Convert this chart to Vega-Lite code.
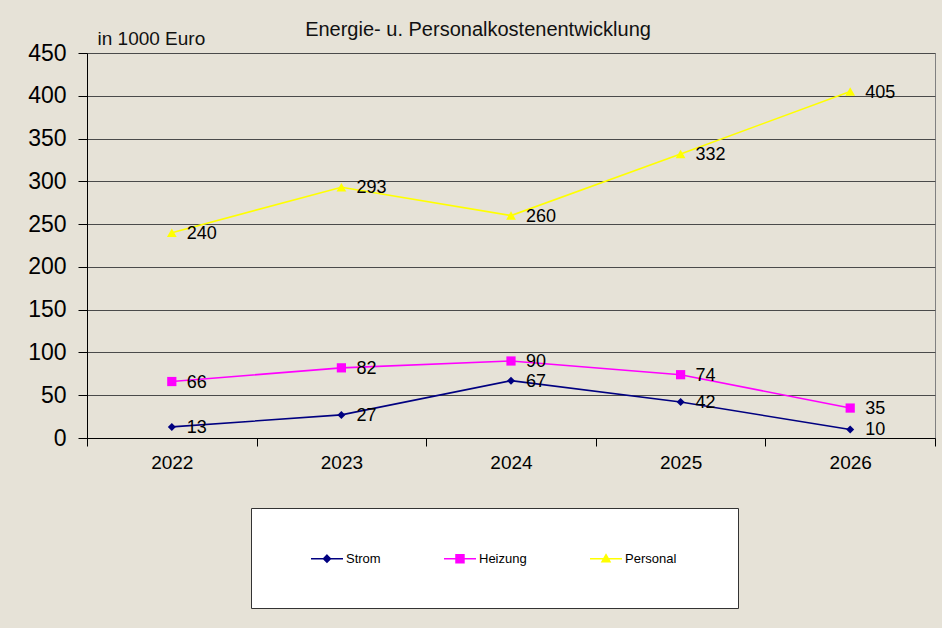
{
  "$schema": "https://vega.github.io/schema/vega-lite/v6.json",
  "width": 848,
  "height": 385,
  "autosize": {"type": "none"},
  "padding": {"left": 87, "top": 53, "right": 7, "bottom": 190},
  "background": "#e6e2d7",
  "config": {
    "font": "Liberation Sans",
    "view": {"stroke": "#808080", "strokeWidth": 1}
  },
  "title": {
    "text": "Energie- u. Personalkostenentwicklung",
    "fontSize": 20,
    "fontWeight": "normal",
    "color": "#111111",
    "anchor": "middle",
    "dx": -33,
    "dy": 24,
    "offset": 13
  },
  "data": {
    "values": [
      {"Jahr": "2022", "Reihe": "Strom", "Wert": 13},
      {"Jahr": "2023", "Reihe": "Strom", "Wert": 27},
      {"Jahr": "2024", "Reihe": "Strom", "Wert": 67},
      {"Jahr": "2025", "Reihe": "Strom", "Wert": 42},
      {"Jahr": "2026", "Reihe": "Strom", "Wert": 10},
      {"Jahr": "2022", "Reihe": "Heizung", "Wert": 66},
      {"Jahr": "2023", "Reihe": "Heizung", "Wert": 82},
      {"Jahr": "2024", "Reihe": "Heizung", "Wert": 90},
      {"Jahr": "2025", "Reihe": "Heizung", "Wert": 74},
      {"Jahr": "2026", "Reihe": "Heizung", "Wert": 35},
      {"Jahr": "2022", "Reihe": "Personal", "Wert": 240},
      {"Jahr": "2023", "Reihe": "Personal", "Wert": 293},
      {"Jahr": "2024", "Reihe": "Personal", "Wert": 260},
      {"Jahr": "2025", "Reihe": "Personal", "Wert": 332},
      {"Jahr": "2026", "Reihe": "Personal", "Wert": 405}
    ]
  },
  "encoding": {
    "x": {
      "field": "Jahr",
      "type": "ordinal",
      "bandPosition": 0.5,
      "scale": {"type": "band", "paddingInner": 0, "paddingOuter": 0},
      "axis": {
        "title": null,
        "labelAngle": 0,
        "grid": false,
        "domainColor": "#000000",
        "tickColor": "#000000",
        "tickBand": "extent",
        "tickSize": 8,
        "labelFontSize": 19,
        "labelColor": "#000000",
        "labelPadding": 7
      }
    },
    "y": {
      "field": "Wert",
      "type": "quantitative",
      "scale": {"domain": [0, 450], "nice": false},
      "axis": {
        "values": [0, 50, 100, 150, 200, 250, 300, 350, 400, 450],
        "title": "in 1000 Euro",
        "titleAngle": 0,
        "titleX": 10,
        "titleY": -9,
        "titleAlign": "left",
        "titleBaseline": "alphabetic",
        "titleFontSize": 19,
        "titleFontWeight": "normal",
        "titleColor": "#111111",
        "grid": true,
        "gridColor": "#4a4a4a",
        "gridOpacity": 1,
        "domainColor": "#000000",
        "tickColor": "#000000",
        "tickSize": 9,
        "labelFontSize": 23,
        "labelColor": "#000000",
        "labelPadding": 12
      }
    }
  },
  "layer": [
    {
      "mark": {"type": "line", "strokeWidth": 1.6},
      "encoding": {
        "color": {
          "field": "Reihe",
          "type": "nominal",
          "scale": {"domain": ["Strom", "Heizung", "Personal"], "range": ["#000080", "#ff00ff", "#ffff00"]},
          "legend": {
            "title": " ",
            "titleOrient": "right",
            "titlePadding": 54,
            "titleFontSize": 12,
            "orient": "none",
            "legendX": 164,
            "legendY": 455,
            "direction": "horizontal",
            "columns": 3,
            "fillColor": "#ffffff",
            "strokeColor": "#333333",
            "padding": 8,
            "columnPadding": 11,
            "symbolSize": 6889,
            "labelFontSize": 13,
            "labelColor": "#000000",
            "labelOffset": 2,
            "encode": {
              "symbols": {
                "update": {
                  "shape": {"signal": "datum.value === 'Strom' ? 'M0.229,0H1M0.614,-0.084L0.698,0L0.614,0.084L0.530,0ZM0.6,0.92' : datum.value === 'Heizung' ? 'M0.229,0H1M0.518,-0.096H0.710V0.096H0.518ZM0.6,0.92' : 'M0.229,0H1M0.614,-0.096L0.710,0.072H0.518ZM0.6,0.92'"},
                  "fill": {"signal": "datum.value === 'Strom' ? '#000080' : datum.value === 'Heizung' ? '#ff00ff' : '#ffff00'"},
                  "stroke": {"signal": "datum.value === 'Strom' ? '#000080' : datum.value === 'Heizung' ? '#ff00ff' : '#ffff00'"},
                  "fillOpacity": {"value": 1},
                  "strokeOpacity": {"value": 1},
                  "opacity": {"value": 1},
                  "strokeWidth": {"value": 1.5}
                }
              }
            }
          }
        }
      }
    },
    {
      "transform": [{"filter": "datum.Reihe === 'Strom'"}],
      "mark": {"type": "point", "filled": true, "opacity": 1, "shape": "diamond", "size": 64, "color": "#000080"}
    },
    {
      "transform": [{"filter": "datum.Reihe === 'Heizung'"}],
      "mark": {"type": "point", "filled": true, "opacity": 1, "shape": "square", "size": 85, "color": "#ff00ff"}
    },
    {
      "transform": [{"filter": "datum.Reihe === 'Personal'"}],
      "mark": {"type": "point", "filled": true, "opacity": 1, "shape": "triangle-up", "size": 95, "color": "#ffff00"}
    },
    {
      "mark": {"type": "text", "align": "left", "baseline": "middle", "dx": 15, "dy": 1, "fontSize": 18, "color": "#000000"},
      "encoding": {
        "text": {"field": "Wert", "type": "quantitative"}
      }
    }
  ]
}
